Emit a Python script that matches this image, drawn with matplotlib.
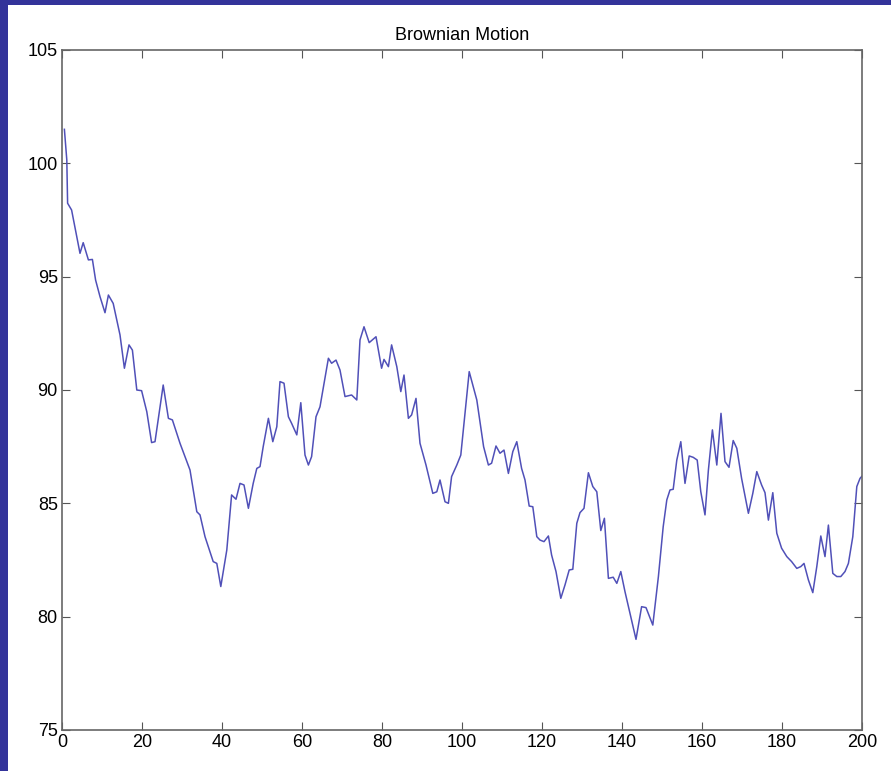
import matplotlib
matplotlib.use("Agg")
import matplotlib.pyplot as plt
import numpy as np

# points (step, value)
steps = [0.6, 1.2, 1.4, 2.4, 4.5, 5.3, 6.6, 7.6, 8.4, 9.5, 10.75, 11.6, 12.8, 14.5, 15.6,
         16.75, 17.6, 18.7, 19.9, 21.2, 22.4, 23.25, 25.3, 26.6, 27.6, 29.5, 32, 33.7, 34.5,
         35.75, 37.8, 38.7, 39.7, 41.2, 42.4, 43.5, 44.5, 45.5, 46.6, 47.8, 48.7, 49.5,
         50.3, 51.6, 52.7, 53.7, 54.5, 55.5, 56.6, 57.4, 58.7, 59.7, 60.75, 61.6, 62.4,
         63.5, 64.5, 66.6, 67.4, 68.5, 69.5, 70.75, 72.4, 73.7, 74.5, 75.5, 76.8, 78.5,
         79.9, 80.5, 81.6, 82.4, 83.7, 84.7, 85.5, 86.6, 87.4, 88.5, 89.5, 91, 92.7, 93.7,
         94.5, 95.75, 96.6, 97.4, 98.7, 99.7, 100.75, 101.8, 103.7, 105.4, 106.6, 107.4,
         108.5, 109.5, 110.5, 111.6, 112.7, 113.7, 114.9, 115.75, 116.8, 117.7, 118.7,
         119.5, 120.5, 121.6, 122.4, 123.5, 124.7, 125.75, 126.8, 127.7, 128.7, 129.5,
         130.5, 131.6, 132.7, 133.7, 134.7, 135.6, 136.6, 137.8, 138.7, 139.7, 140.75,
         142.4, 143.5, 144.9, 146, 147.7, 149.1, 150.3, 151.2, 152, 152.8, 153.7, 154.7,
         155.75, 156.8, 157.8, 158.8, 159.7, 160.75, 161.6, 162.6, 163.7, 164.75, 165.75,
         166.75, 167.8, 168.7, 169.9, 171.6, 172.7, 173.7, 174.9, 175.75, 176.6, 177.7,
         178.7, 179.9, 181.2, 182.4, 183.7, 184.7, 185.5, 186.6, 187.7, 188.7, 189.7,
         190.75, 191.6, 192.7, 193.7, 194.7, 195.75, 196.6, 197.7, 198.7, 199.5, 200]
values = [101.5, 100.15, 98.24, 97.94, 96.03, 96.5, 95.74, 95.76, 94.85, 94.12, 93.41, 94.19,
          93.82, 92.43, 90.96, 91.99, 91.76, 90.0, 89.97, 89.04, 87.68, 87.72, 90.22, 88.75,
          88.68, 87.65, 86.47, 84.63, 84.49, 83.53, 82.43, 82.35, 81.33, 82.94, 85.37,
          85.18, 85.88, 85.81, 84.78, 85.88, 86.54, 86.62, 87.5, 88.75, 87.72, 88.38,
          90.37, 90.3, 88.82, 88.53, 88.02, 89.44, 87.13, 86.69, 87.06, 88.82, 89.26, 91.4,
          91.18, 91.32, 90.88, 89.71, 89.78, 89.56, 92.21, 92.79, 92.09, 92.35, 90.96,
          91.35, 91.03, 91.99, 91.03, 89.93, 90.66, 88.75, 88.9, 89.63, 87.65, 86.69,
          85.44, 85.51, 86.03, 85.07, 85.0, 86.18, 86.69, 87.13, 88.97, 90.81, 89.56,
          87.5, 86.69, 86.77, 87.53, 87.21, 87.35, 86.32, 87.28, 87.72, 86.54, 86.03,
          84.88, 84.85, 83.53, 83.38, 83.31, 83.56, 82.72, 81.99, 80.81, 81.4, 82.06,
          82.09, 84.12, 84.59, 84.78, 86.35, 85.74, 85.51, 83.8, 84.34, 81.69, 81.74,
          81.47, 81.99, 81.1, 79.85, 79.0, 80.44, 80.4, 79.63, 81.77, 83.97, 85.15, 85.59,
          85.62, 86.91, 87.72, 85.88, 87.09, 87.03, 86.91, 85.51, 84.49, 86.47, 88.24,
          86.69, 88.97, 86.84, 86.59, 87.77, 87.43, 86.1, 84.56, 85.44, 86.4, 85.81, 85.47,
          84.26, 85.47, 83.68, 83.02, 82.65, 82.43, 82.13, 82.21, 82.35, 81.62, 81.06,
          82.21, 83.56, 82.65, 84.04, 81.91, 81.77, 81.77, 81.99, 82.35, 83.53, 85.74,
          86.1, 86.2]

x_ticks = [0, 20, 40, 60, 80, 100, 120, 140, 160, 180, 200]
y_ticks = [75, 80, 85, 90, 95, 100, 105]

plt.rcParams['font.family'] = ['Liberation Sans', 'DejaVu Sans']

fig = plt.figure(figsize=(8.91, 7.71), dpi=100, facecolor='#33339a')
# white panel inside the blue frame, kept behind the axes
fig.patches.append(plt.Rectangle((8 / 891, 0), 1, 1 - 5 / 771, transform=fig.transFigure,
                                 facecolor='white', edgecolor='none', zorder=-10))

ax = fig.add_axes([62 / 891, 1 - 730 / 771, 800 / 891, 680 / 771])
ax.plot(steps, values, color='#5050b8', lw=1.1)

ax.set_xlim(0, 200)
ax.set_ylim(75, 105)
ax.set_xticks(x_ticks)
ax.set_yticks(y_ticks)
ax.tick_params(direction='in', length=6, top=True, right=True, labelsize=13,
               color='#555555', pad=3)
for s in ax.spines.values():
    s.set_color('#666666')
    s.set_linewidth(1.2)
ax.set_title('Brownian Motion', fontsize=13, pad=7)

fig.savefig('out.png', dpi=100, facecolor=fig.get_facecolor())
